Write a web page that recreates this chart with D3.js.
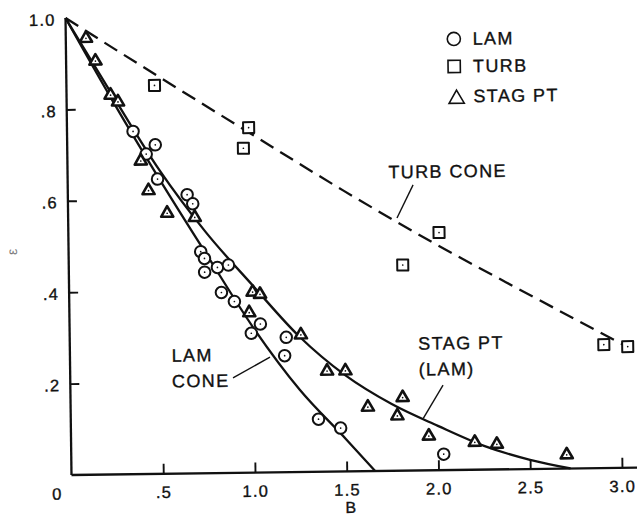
<!DOCTYPE html>
<html>
<head>
<meta charset="utf-8">
<script src="https://cdn.jsdelivr.net/npm/d3@7"></script>
<style>
  html, body { margin: 0; padding: 0; background: #fff; }
  svg { display: block; }
  text { font-family: "Liberation Sans", Arial, Helvetica, sans-serif; fill: #111; stroke: #111; stroke-width: 0.35px; }
</style>
</head>
<body>
<svg id="chart" width="637" height="517"></svg>
<script>
// Laminar (cone) data: B and epsilon
const lamB   = [0.36, 0.48, 0.43, 0.49, 0.65, 0.68, 0.72, 0.74, 0.74, 0.81, 0.87, 0.83, 0.90, 1.04, 0.99, 1.18, 1.17, 1.35, 1.47, 2.03];
const lamEps = [0.75, 0.72, 0.70, 0.645, 0.61, 0.59, 0.485, 0.47, 0.44, 0.45, 0.455, 0.395, 0.375, 0.325, 0.305, 0.295, 0.255, 0.115, 0.095, 0.035];

// Turbulent data
const turbB   = [0.48, 0.99, 0.96, 2.02, 1.82, 2.91, 3.04];
const turbEps = [0.85, 0.755, 0.71, 0.52, 0.45, 0.27, 0.265];

// Stagnation point data
const stagB   = [0.11, 0.16, 0.24, 0.28, 0.40, 0.44, 0.54, 0.69, 1.00, 1.04, 0.98, 1.26, 1.40, 1.50, 1.62, 1.81, 1.78, 1.95, 2.20, 2.32, 2.70];
const stagEps = [0.955, 0.905, 0.83, 0.815, 0.685, 0.62, 0.57, 0.56, 0.395, 0.39, 0.35, 0.30, 0.22, 0.22, 0.14, 0.16, 0.12, 0.075, 0.06, 0.055, 0.03];

// Correlation curves
const lamConeB   = [0, 0.25, 0.5, 0.75, 1.0, 1.25, 1.5, 1.655];
const lamConeEps = [1.0, 0.818, 0.645, 0.48, 0.318, 0.18, 0.07, 0.0];
const stagCurveB   = [0, 0.25, 0.5, 0.75, 1.0, 1.25, 1.5, 1.75, 2.0, 2.25, 2.5, 2.72];
const stagCurveEps = [1.0, 0.83, 0.665, 0.527, 0.41, 0.297, 0.21, 0.146, 0.097, 0.052, 0.02, 0.0];
const turbConeB   = [0, 0.5, 1.0, 1.5, 2.0, 2.5, 3.04];
const turbConeEps = [1.0, 0.87, 0.742, 0.615, 0.495, 0.383, 0.264];

// Axis ticks
const xTicks = [0.5, 1.0, 1.5, 2.0, 2.5, 3.0];
const xTickLabels = [".5", "1.0", "1.5", "2.0", "2.5", "3.0"];
const yTicks = [0.2, 0.4, 0.6, 0.8, 1.0];
const yTickLabels = [".2", ".4", ".6", ".8", "1.0"];

// Curve annotations: label lines and leader segments (data coordinates)
const annotations = [
  { lines: ["TURB CONE"], B: 1.748, eps: 0.640, leader: [[1.882, 0.625], [1.792, 0.553]] },
  { lines: ["LAM", "CONE"], B: 0.554, eps: 0.245, leader: [[0.887, 0.208], [1.090, 0.252]] },
  { lines: ["STAG PT", "(LAM)"], B: 1.899, eps: 0.264, leader: [[2.031, 0.186], [1.921, 0.114]] }
];

const legendItems = [
  { label: "LAM", shape: d3.symbolCircle },
  { label: "TURB", shape: d3.symbolSquare },
  { label: "STAG PT", shape: d3.symbolTriangle }
];

const ink = "#111";
const svg = d3.select("#chart");
const ox = 71.5, oy = 475;

const x = d3.scaleLinear().domain([0, 3]).range([ox, 622]);
const y = d3.scaleLinear().domain([0, 1]).range([oy, 18]);

// whole figure sits at a slight tilt
const g = svg.append("g").attr("transform", `rotate(-0.75, ${ox}, ${oy})`);

// axis lines
g.append("line").attr("x1", x(0)).attr("y1", y(0)).attr("x2", x(3.1)).attr("y2", y(0))
  .attr("stroke", ink).attr("stroke-width", 2.3);
g.append("line").attr("x1", x(0)).attr("y1", y(0)).attr("x2", x(0)).attr("y2", y(1))
  .attr("stroke", ink).attr("stroke-width", 2.3);

// x axis ticks (pointing inward)
const xAxis = d3.axisBottom(x).tickValues(xTicks)
  .tickFormat((d, i) => xTickLabels[i]).tickSizeInner(-10).tickSizeOuter(0).tickPadding(12.5);
const gx = g.append("g").attr("transform", `translate(0,${y(0)})`).call(xAxis);
gx.select(".domain").remove();
gx.selectAll(".tick line").attr("stroke", ink).attr("stroke-width", 1.9);
gx.selectAll(".tick text").attr("font-size", 16.5).attr("letter-spacing", 1.2)
  .attr("fill", ink).style("font-family", '"Liberation Sans", Arial, sans-serif');

// y axis ticks (pointing inward)
const yAxis = d3.axisLeft(y).tickValues(yTicks)
  .tickFormat((d, i) => yTickLabels[i]).tickSizeInner(-9).tickSizeOuter(0).tickPadding(10);
const gy = g.append("g").attr("transform", `translate(${x(0)},0)`).call(yAxis);
gy.select(".domain").remove();
gy.selectAll(".tick line").attr("stroke", ink).attr("stroke-width", 1.9)
  .filter(d => d === 1.0).remove();
gy.selectAll(".tick text").attr("font-size", 16.5).attr("letter-spacing", 1.2)
  .attr("fill", ink).attr("dy", "0.42em").style("font-family", '"Liberation Sans", Arial, sans-serif');

// origin label
g.append("text").attr("x", x(0) - 15).attr("y", y(0) + 24.5)
  .attr("text-anchor", "middle").attr("font-size", 16.5).text("0");

// axis titles
g.append("text").attr("x", x(1.52)).attr("y", y(0) + 41.5)
  .attr("text-anchor", "middle").attr("font-size", 16).text("B");
g.append("text").attr("transform", `translate(20, ${y(0.49)}) rotate(-90)`)
  .attr("text-anchor", "middle").attr("font-size", 14)
  .style("fill", "#7a7a7a").style("stroke", "none").text("ε");

// curves
const line = d3.line().x(d => x(d[0])).y(d => y(d[1])).curve(d3.curveMonotoneX);
const zip = (a, b) => a.map((v, i) => [v, b[i]]);

g.append("path").datum(zip(turbConeB, turbConeEps)).attr("d", line)
  .attr("fill", "none").attr("stroke", ink).attr("stroke-width", 2.3)
  .attr("stroke-dasharray", "15 8");
g.append("path").datum(zip(lamConeB, lamConeEps)).attr("d", line)
  .attr("fill", "none").attr("stroke", ink).attr("stroke-width", 2.3);
g.append("path").datum(zip(stagCurveB, stagCurveEps)).attr("d", line)
  .attr("fill", "none").attr("stroke", ink).attr("stroke-width", 2.3);

// annotations
annotations.forEach(a => {
  const t = g.append("text").attr("x", x(a.B)).attr("y", y(a.eps))
    .attr("font-size", 18).attr("letter-spacing", 1.4);
  a.lines.forEach((s, i) => {
    t.append("tspan").attr("x", x(a.B)).attr("dy", i === 0 ? 0 : 25.8).text(s);
  });
  g.append("line")
    .attr("x1", x(a.leader[0][0])).attr("y1", y(a.leader[0][1]))
    .attr("x2", x(a.leader[1][0])).attr("y2", y(a.leader[1][1]))
    .attr("stroke", ink).attr("stroke-width", 1.4);
});

// data markers
function drawMarkers(bs, es, shape, size, sw) {
  const pts = zip(bs, es);
  const grp = g.append("g");
  const sym = d3.symbol().type(shape).size(size);
  grp.selectAll("path").data(pts).join("path")
    .attr("transform", d => `translate(${x(d[0])},${y(d[1])})`)
    .attr("d", sym).attr("fill", "#fff").attr("stroke", ink)
    .attr("stroke-width", sw).attr("stroke-linejoin", "round");
  grp.selectAll("circle").data(pts).join("circle")
    .attr("cx", d => x(d[0])).attr("cy", d => y(d[1])).attr("r", 0.85).attr("fill", ink);
}
drawMarkers(turbB, turbEps, d3.symbolSquare, 122, 2.0);
drawMarkers(lamB, lamEps, d3.symbolCircle, 104, 2.0);
drawMarkers(stagB, stagEps, d3.symbolTriangle, 64, 2.6);

// legend
const legend = g.append("g").attr("transform", "translate(459.5, 44)");
legendItems.forEach((item, i) => {
  const ry = [0, 27.5, 57.5][i];
  const sz = [135, 150, 100][i];
  const dyShape = item.shape === d3.symbolTriangle ? 2.5 : 0;
  legend.append("path")
    .attr("transform", `translate(${i === 2 ? 2 : 0},${ry + dyShape})`)
    .attr("d", d3.symbol().type(item.shape).size(sz)())
    .attr("fill", "none").attr("stroke", ink).attr("stroke-width", 1.6);
  legend.append("text").attr("x", 18.8).attr("y", ry + 6)
    .attr("font-size", 18).attr("letter-spacing", 1.4).text(item.label);
});
</script>
</body>
</html>
